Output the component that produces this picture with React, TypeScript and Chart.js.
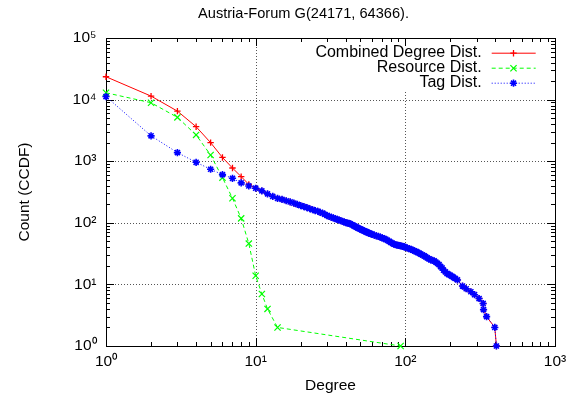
import React, { useEffect, useRef } from 'react';
import { Chart, registerables } from 'chart.js';

Chart.register(...registerables);

const chartTitle = 'Austria-Forum G(24171, 64366).';
const xAxisTitle = 'Degree';
const yAxisTitle = 'Count (CCDF)';
const seriesNames = ['Combined Degree Dist.', 'Resource Dist.', 'Tag Dist.'];

const xTickValues = [1, 10, 100, 1000];
const xTickLabels = ['10⁰', '10¹', '10²', '10³'];
const yTickValues = [1, 10, 100, 1000, 10000, 100000];
const yTickLabels = ['10⁰', '10¹', '10²', '10³', '10⁴', '10⁵'];

const combinedHeadDegrees = [1, 2, 3, 4, 5, 6, 7, 8, 9];
const combinedHeadCounts = [23500, 11400, 6500, 3630, 2000, 1150, 775, 562, 420];

const resourceDegrees = [1, 2, 3, 4, 5, 6, 7, 8, 9, 10, 11, 12, 14, 93];
const resourceCounts = [12900, 8900, 5150, 2670, 1260, 540, 250, 118, 46, 13.8, 7, 4, 2, 1];

const tagDegrees = [
  1, 2, 3, 4, 5, 6, 7, 8, 9, 10,
  11, 12, 13, 14, 15, 16, 17, 18, 19, 20,
  21, 22, 23, 24, 25, 26, 27, 28, 29, 30,
  31, 32, 33, 34, 35, 36, 37, 38, 39, 40,
  41, 42, 43, 44, 45, 46, 47, 48, 49, 50,
  51, 52, 53, 54, 55, 56, 57, 58, 59, 60,
  62, 64, 66, 68, 70, 72, 74, 76, 78, 80,
  82, 84, 86, 88, 90, 92, 94, 96, 98, 100,
  103, 106, 109, 112, 115, 118, 121, 124, 127, 130,
  134, 137, 140, 144, 148, 152, 156, 160, 164, 168,
  172, 176, 180, 185, 190, 195, 200, 205, 210, 215,
  223, 241, 255, 274, 290, 311, 331, 333, 349, 396, 406,
];
const tagCounts = [
  11200, 2580, 1380, 960, 740, 605, 528, 445, 396, 364,
  330, 295, 268, 250, 240, 228, 218, 208, 199, 190,
  183, 176, 169, 163, 158, 154, 148, 143, 137, 131,
  127, 123, 120, 117, 114, 111, 108, 106, 103, 101,
  99, 98, 96, 93, 90, 88, 85, 83, 81, 79,
  77, 76, 74, 72, 71, 70, 68, 67, 66, 65,
  63, 61.5, 60, 58.5, 57, 55.5, 54, 52, 50, 48,
  46.5, 45, 44, 43.5, 43, 42.5, 42, 41.5, 41, 40,
  39, 38, 37, 36, 35, 34, 33, 32, 31, 30,
  29, 28, 27, 26, 25, 24.5, 24, 23, 22, 21,
  19.5, 18.5, 17, 16, 15, 14.5, 14, 13.5, 13, 12.5,
  11.8, 9.4, 8.5, 7.6, 6.8, 5.9, 4.9, 3.9, 3, 2, 1,
];

const combinedDegrees = combinedHeadDegrees.concat(tagDegrees.slice(9));
const combinedCounts = combinedHeadCounts.concat(tagCounts.slice(9));

const FONT = "'Liberation Sans', Arial, Helvetica, sans-serif";

const toPoints = (xs: number[], ys: number[]) => xs.map((x, i) => ({ x, y: ys[i] }));

function drawMarker(ctx: CanvasRenderingContext2D, style: string, x: number, y: number, r: number, w: number) {
  ctx.lineWidth = w;
  ctx.beginPath();
  if (style === 'cross' || style === 'star') {
    ctx.moveTo(x - r, y); ctx.lineTo(x + r, y);
    ctx.moveTo(x, y - r); ctx.lineTo(x, y + r);
  }
  if (style === 'crossRot' || style === 'star') {
    const d = r * Math.SQRT1_2;
    ctx.moveTo(x - d, y - d); ctx.lineTo(x + d, y + d);
    ctx.moveTo(x - d, y + d); ctx.lineTo(x + d, y - d);
  }
  ctx.stroke();
}

const decorPlugin = {
  id: 'decor',
  beforeDatasetsDraw(chart: any) {
    const { ctx, chartArea: a, scales } = chart;
    const xs = scales.x, ys = scales.y;
    const L = Math.round(a.left), R = Math.round(a.right), T = Math.round(a.top), B = Math.round(a.bottom);
    const legendLeft = R - 260, legendBottom = T + 54;
    ctx.save();
    ctx.strokeStyle = '#555';
    ctx.lineWidth = 1;
    ctx.setLineDash([1, 2]);
    ctx.beginPath();
    for (const v of xTickValues) {
      const px = Math.round(xs.getPixelForValue(v)) + 0.5;
      if (px <= L + 2 || px >= R - 2) continue;
      const y0 = px > legendLeft ? legendBottom : T;
      ctx.moveTo(px, y0); ctx.lineTo(px, B);
    }
    for (const v of yTickValues) {
      const py = Math.round(ys.getPixelForValue(v)) + 0.5;
      if (py <= T + 2 || py >= B - 2) continue;
      ctx.moveTo(L, py); ctx.lineTo(R, py);
    }
    ctx.stroke();
    ctx.setLineDash([]);
    ctx.strokeStyle = '#000';
    ctx.beginPath();
    for (let d = 1; d < 1000; d *= 10) {
      for (let m = 1; m <= 10; m++) {
        const px = Math.round(xs.getPixelForValue(d * m)) + 0.5;
        const len = m === 1 || m === 10 ? 8 : 4;
        ctx.moveTo(px, B); ctx.lineTo(px, B - len);
        ctx.moveTo(px, T); ctx.lineTo(px, T + len);
      }
    }
    for (let d = 1; d < 100000; d *= 10) {
      for (let m = 1; m <= 10; m++) {
        const py = Math.round(ys.getPixelForValue(d * m)) + 0.5;
        const len = m === 1 || m === 10 ? 8 : 4;
        ctx.moveTo(L, py); ctx.lineTo(L + len, py);
        ctx.moveTo(R, py); ctx.lineTo(R - len, py);
      }
    }
    ctx.stroke();
    ctx.strokeRect(L + 0.5, T + 0.5, R - L, B - T);
    ctx.restore();
  },
  afterDraw(chart: any) {
    const { ctx, chartArea: a } = chart;
    const R = Math.round(a.right), T = Math.round(a.top);
    ctx.save();
    ctx.fillStyle = '#000';
    ctx.font = `14.6px ${FONT}`;
    ctx.textAlign = 'center';
    ctx.textBaseline = 'middle';
    ctx.fillText(chartTitle, 303.5, 14);
    ctx.font = `16px ${FONT}`;
    ctx.textAlign = 'right';
    chart.data.datasets.forEach((ds: any, i: number) => {
      const y = T + 14.7 + i * 15;
      ctx.fillStyle = '#000';
      ctx.fillText(ds.label, R - 73.3, y);
      ctx.strokeStyle = ds.borderColor;
      ctx.lineWidth = 1;
      ctx.setLineDash(ds.borderDash || []);
      ctx.beginPath();
      ctx.moveTo(R - 63.3, y + 0.5); ctx.lineTo(R - 19.3, y + 0.5);
      ctx.stroke();
      ctx.setLineDash([]);
      drawMarker(ctx, ds.pointStyle, R - 41.5, y + 0.5, ds.pointRadius, ds.pointBorderWidth);
    });
    ctx.restore();
  },
};

const tickFont = { family: FONT, size: 15.5 };

export default function App() {
  const ref = useRef<HTMLCanvasElement>(null);
  useEffect(() => {
    const chart = new Chart(ref.current as HTMLCanvasElement, {
      type: 'line',
      data: {
        datasets: [
          {
            label: seriesNames[0],
            data: toPoints(combinedDegrees, combinedCounts),
            borderColor: '#ff0000',
            backgroundColor: '#ff0000',
            pointBorderColor: '#ff0000',
            borderWidth: 1,
            pointStyle: 'cross',
            pointRadius: 3.2,
            pointBorderWidth: 1.3,
            tension: 0,
            clip: false,
            order: 3,
          },
          {
            label: seriesNames[1],
            data: toPoints(resourceDegrees, resourceCounts),
            borderColor: '#00ff00',
            backgroundColor: '#00ff00',
            pointBorderColor: '#00ff00',
            borderWidth: 1,
            borderDash: [4, 3],
            pointStyle: 'crossRot',
            pointRadius: 4.4,
            pointBorderWidth: 1.2,
            tension: 0,
            clip: false,
            order: 2,
          },
          {
            label: seriesNames[2],
            data: toPoints(tagDegrees, tagCounts),
            borderColor: '#0000ff',
            backgroundColor: '#0000ff',
            pointBorderColor: '#0000ff',
            borderWidth: 1,
            borderDash: [1, 2],
            pointStyle: 'star',
            pointRadius: 3.6,
            pointBorderWidth: 1.6,
            tension: 0,
            clip: false,
            order: 1,
          },
        ] as any,
      },
      options: {
        animation: false,
        responsive: false,
        devicePixelRatio: 1,
        layout: { padding: { top: 38, right: 13, bottom: 0, left: 0 } },
        plugins: {
          legend: { display: false },
          title: { display: false },
          tooltip: { enabled: false },
        },
        scales: {
          x: {
            type: 'logarithmic',
            position: 'bottom',
            min: 1,
            max: 1000,
            afterBuildTicks: (s: any) => {
              s.ticks = xTickValues.map((v) => ({ value: v, major: true }));
            },
            afterFit: (s: any) => {
              s.height = 55;
              s.paddingLeft = 0;
              s.paddingRight = 0;
            },
            grid: { display: false, drawTicks: false },
            border: { display: false },
            ticks: {
              autoSkip: false,
              maxRotation: 0,
              padding: 6,
              color: '#000',
              font: tickFont,
              callback: (_v: any, i: number) => xTickLabels[i],
            },
            title: {
              display: true,
              text: xAxisTitle,
              color: '#000',
              font: { family: FONT, size: 15.5 },
              padding: { top: 0, bottom: 5.7 },
            },
          },
          y: {
            type: 'logarithmic',
            position: 'left',
            min: 1,
            max: 100000,
            afterBuildTicks: (s: any) => {
              s.ticks = yTickValues.map((v) => ({ value: v, major: true }));
            },
            afterFit: (s: any) => {
              s.width = 106;
              s.paddingTop = 0;
              s.paddingBottom = 0;
            },
            grid: { display: false, drawTicks: false },
            border: { display: false },
            ticks: {
              autoSkip: false,
              padding: 9.5,
              color: '#000',
              font: tickFont,
              callback: (_v: any, i: number) => yTickLabels[i],
            },
            title: {
              display: true,
              text: yAxisTitle,
              color: '#000',
              font: { family: FONT, size: 15.5 },
              padding: { top: 15.7, bottom: 0 },
            },
          },
        },
      },
      plugins: [decorPlugin],
    } as any);
    return () => chart.destroy();
  }, []);
  return (
    <div style={{ position: 'absolute', left: 0, top: 0, width: 568, height: 401, background: '#fff' }}>
      <canvas ref={ref} width={568} height={401} style={{ width: 568, height: 401, display: 'block' }} />
    </div>
  );
}
